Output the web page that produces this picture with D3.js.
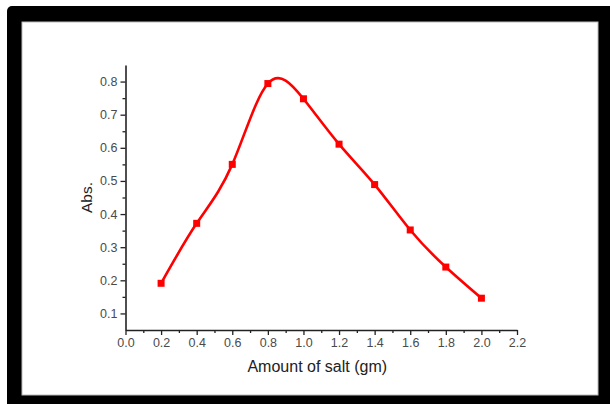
<!DOCTYPE html>
<html>
<head>
<meta charset="utf-8">
<script src="https://cdn.jsdelivr.net/npm/d3@7"></script>
<style>
body { margin: 0; background: #fff; }
svg { display: block; }
</style>
</head>
<body>
<div id="chart"></div>
<script>
// amount of salt (gm) vs absorbance
var salt = [0.2, 0.4, 0.6, 0.8, 1.0, 1.2, 1.4, 1.6, 1.8, 2.0];
var abs = [0.191, 0.372, 0.55, 0.794, 0.748, 0.611, 0.489, 0.352, 0.240, 0.146];
var xTicks = [0.0, 0.2, 0.4, 0.6, 0.8, 1.0, 1.2, 1.4, 1.6, 1.8, 2.0, 2.2];
var yTicks = [0.1, 0.2, 0.3, 0.4, 0.5, 0.6, 0.7, 0.8];

var W = 610, H = 404;
var margin = {top: 65, right: 93, bottom: 74, left: 125.5},
    width = W - margin.left - margin.right,
    height = H - margin.top - margin.bottom;

var root = d3.select("#chart").append("svg").attr("width", W).attr("height", H);

// black frame
root.append("rect").attr("x", 7).attr("y", 6).attr("width", 610).attr("height", 410).attr("rx", 5).style("fill", "#000");
root.append("rect").attr("x", 22).attr("y", 22).attr("width", 576).attr("height", 373).style("fill", "#fff").style("stroke", "#bbb").style("stroke-width", 1);

var svg = root.append("g").attr("transform", "translate(" + margin.left + "," + margin.top + ")");

var x = d3.scaleLinear().domain([0, 2.2]).range([0, width]);
var y = d3.scaleLinear().domain([0.05, 0.85]).range([height, 0]);

var fmt = d3.format(".1f");

// minor ticks
svg.append("g").attr("transform", "translate(0," + height + ")")
  .call(d3.axisBottom(x).tickValues(d3.range(0.1, 2.2, 0.2)).tickSize(3).tickFormat(""))
  .call(function(g) { g.select(".domain").remove(); });
svg.append("g")
  .call(d3.axisLeft(y).tickValues(d3.range(0.15, 0.85, 0.1)).tickSize(3).tickFormat(""))
  .call(function(g) { g.select(".domain").remove(); });

var xa = svg.append("g").attr("class", "axis").attr("transform", "translate(0," + height + ")")
  .call(d3.axisBottom(x).tickValues(xTicks).tickFormat(fmt).tickSize(5).tickSizeOuter(0));
var ya = svg.append("g").attr("class", "axis")
  .call(d3.axisLeft(y).tickValues(yTicks).tickFormat(fmt).tickSize(5).tickSizeOuter(0));

svg.selectAll(".tick line").style("stroke", "#222").style("stroke-width", 1.3);
svg.selectAll(".domain").style("stroke", "#222").style("stroke-width", 1.6);
svg.selectAll(".axis text").style("font-family", "Liberation Sans, Arial, sans-serif").style("font-size", "12.5px").style("fill", "#4a4a4a");
xa.selectAll("text").attr("dy", "0.9em").attr("y", 6);
ya.selectAll("text").attr("x", -8);

var pts = salt.map(function(s, i) { return [s, abs[i]]; });

svg.append("path").datum(pts)
  .attr("d", d3.line().x(function(d) { return x(d[0]); }).y(function(d) { return y(d[1]); }).curve(d3.curveNatural))
  .style("fill", "none").style("stroke", "#ff0000").style("stroke-width", 2.6);

svg.selectAll(".pt").data(pts).enter().append("rect")
  .attr("x", function(d) { return x(d[0]) - 3.5; })
  .attr("y", function(d) { return y(d[1]) - 3.5; })
  .attr("width", 7).attr("height", 7)
  .style("fill", "#ff0000");

svg.append("text").attr("x", x(1.1) - 4).attr("y", height + 42)
  .style("text-anchor", "middle").style("font-family", "Liberation Sans, Arial, sans-serif").style("font-size", "16px").style("fill", "#222")
  .text("Amount of salt (gm)");

svg.append("text").attr("transform", "translate(" + (-34) + "," + y(0.45) + ") rotate(-90)")
  .style("text-anchor", "middle").style("font-family", "Liberation Sans, Arial, sans-serif").style("font-size", "15.5px").style("fill", "#222")
  .text("Abs.");
</script>
</body>
</html>
